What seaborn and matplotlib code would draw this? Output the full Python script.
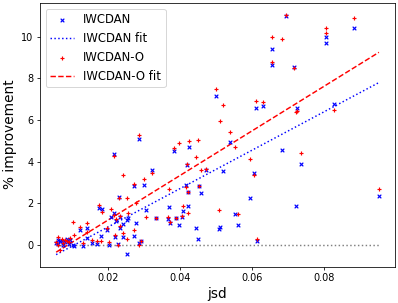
import numpy as np
import pandas as pd
import matplotlib
matplotlib.use("Agg")
import matplotlib.pyplot as plt
import seaborn as sns

# ── datos ───────────────────────────────────────────────────────────────────
jsd = [
    0.0499, 0.0519, 0.0511, 0.0508, 0.0539, 0.0552, 0.0561, 0.0594, 0.0607, 0.0612,
    0.0614, 0.0631, 0.0655, 0.0656, 0.0684, 0.0696, 0.0717, 0.0724, 0.0726, 0.0737,
    0.0806, 0.0807, 0.0830, 0.0884, 0.0954,
    0.0397, 0.0424, 0.0449, 0.0384, 0.0444, 0.0419, 0.0459, 0.0473, 0.0416, 0.0453,
    0.0422, 0.0408, 0.0422, 0.0405, 0.0369, 0.0367, 0.0371, 0.0390,
    0.0287, 0.0321, 0.0299, 0.0272, 0.0277, 0.0304, 0.0334, 0.0272, 0.0290, 0.0286,
    0.0253, 0.0254, 0.0252,
    0.0217, 0.0240, 0.0231, 0.0209, 0.0175, 0.0184, 0.0232, 0.0232, 0.0219, 0.0241,
    0.0196, 0.0180, 0.0203, 0.0226, 0.0216, 0.0223,
    0.0103, 0.0121, 0.0140, 0.0142, 0.0059, 0.0104, 0.0129, 0.0170, 0.0155, 0.0065,
    0.0055, 0.0060, 0.0070, 0.0075, 0.0080, 0.0085, 0.0090, 0.0095,
]
iwcdan = [
    7.18, 3.57, 0.86, 0.76, 4.97, 1.49, 0.97, 2.25, 3.46, 6.56,
    0.19, 6.68, 9.40, 8.63, 4.56, 11.00, 8.56, 1.86, 6.56, 3.90,
    10.01, 9.68, 6.76, 10.41, 2.35,
    0.97, 4.70, 0.27, 4.54, 0.81, 3.87, 2.48, 3.62, 2.90, 2.83,
    2.57, 1.63, 1.86, 1.35, 1.81, 1.25, 1.08, 1.32,
    5.10, 3.63, 2.90, 2.84, 1.06, 1.67, 1.29, 0.45, 0.18, 0.10,
    -0.41, 1.32, 1.20,
    4.37, 1.00, 2.33, 1.35, 1.76, 1.73, 1.37, 0.81, 0.41, 0.41,
    0.71, 0.46, 0.01, 0.05, 1.56, 1.17,
    0.01, 0.73, 0.81, 0.33, 0.25, -0.06, -0.06, 0.05, 0.10, 0.18,
    0.10, 0.05, 0.20, 0.00, 0.15, 0.30, 0.05, 0.25,
]
iwcdan_o = [
    7.51, 6.71, 5.94, 1.68, 5.41, 4.71, 1.51, 4.13, 3.38, 6.92,
    0.27, 6.86, 10.01, 8.78, 9.90, 11.06, 8.48, 6.40, 6.45, 4.43,
    10.40, 10.16, 6.48, 10.92, 2.71,
    4.89, 5.00, 5.03, 4.65, 4.25, 3.89, 3.62, 3.67, 2.78, 2.84,
    2.56, 1.86, 1.56, 1.40, 2.70, 1.37, 1.10, 1.30,
    5.29, 3.46, 3.16, 2.92, 2.03, 1.37, 1.30, 0.71, 0.18, 0.00,
    0.30, 1.54, 2.27,
    4.27, 3.38, 2.24, 1.71, 1.92, 1.60, 1.40, 0.90, 0.50, 0.56,
    0.80, 0.20, 0.14, 0.01, 1.45, 1.25,
    1.13, 0.89, 1.05, 0.65, 0.41, 0.49, 0.10, 0.20, 0.25, -0.22,
    0.15, 0.00, 0.30, 0.10, 0.25, 0.20, 0.15, 0.35,
]

df = pd.DataFrame({"jsd": jsd, "IWCDAN": iwcdan, "IWCDAN-O": iwcdan_o})

# ajuste lineal
x_fit = np.array([df["jsd"].min(), df["jsd"].max()])
b1, a1 = np.polyfit(df["jsd"], df["IWCDAN"], 1)
b2, a2 = np.polyfit(df["jsd"], df["IWCDAN-O"], 1)

# ── figura ──────────────────────────────────────────────────────────────────
fig, ax = plt.subplots(figsize=(398 / 70, 303 / 70), dpi=70)
fig.subplots_adjust(left=0.1005, right=0.9925, bottom=0.12, top=0.991)

ax.plot(x_fit, [0, 0], linestyle=":", color="gray", linewidth=1.5, zorder=1)

sns.scatterplot(data=df, x="jsd", y="IWCDAN", marker="x", color="b", s=14,
                linewidth=1.2, label="IWCDAN", ax=ax, zorder=3)
sns.lineplot(x=x_fit, y=a1 + b1 * x_fit, color="b", linestyle=":",
             label="IWCDAN fit", ax=ax)
sns.scatterplot(data=df, x="jsd", y="IWCDAN-O", marker="+", color="r", s=14,
                linewidth=1.2, label="IWCDAN-O", ax=ax, zorder=4)
sns.lineplot(x=x_fit, y=a2 + b2 * x_fit, color="r", linestyle="--",
             label="IWCDAN-O fit", ax=ax)

ax.set_xlabel("jsd", fontsize=14)
ax.set_ylabel("% improvement", fontsize=14)
ax.set_xticks([0.02, 0.04, 0.06, 0.08])
ax.legend(loc="upper left", fontsize=12)

print("fit IWCDAN", b1, a1, "fit IWCDAN-O", b2, a2)
plt.savefig("out.png", dpi=70)
